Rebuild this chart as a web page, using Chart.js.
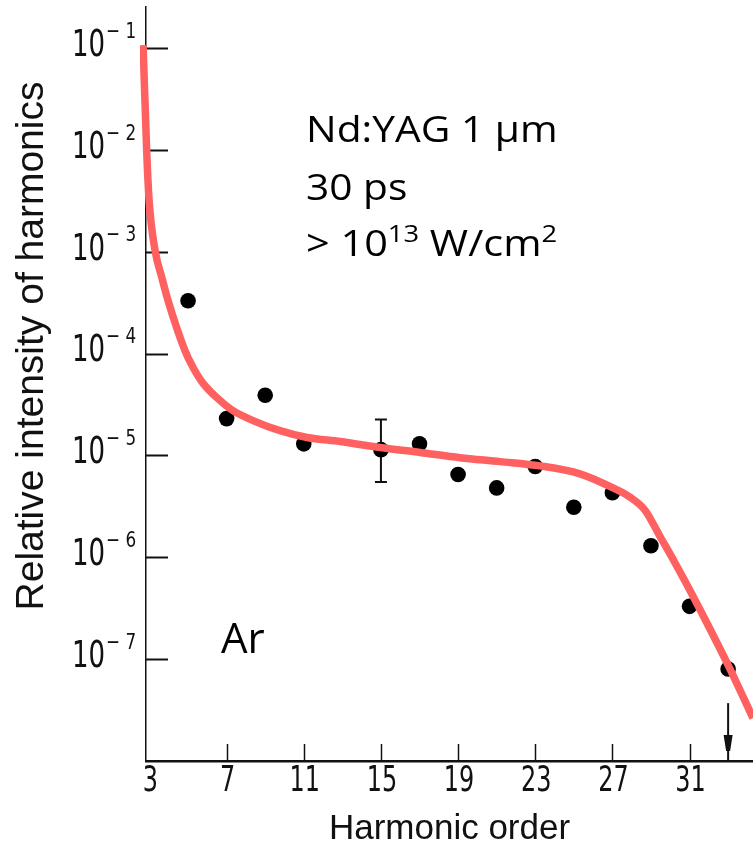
<!DOCTYPE html>
<html>
<head>
<meta charset="utf-8">
<script src="https://cdn.jsdelivr.net/npm/chart.js@4.4.1/dist/chart.umd.min.js"></script>
<style>
  html, body { margin: 0; padding: 0; background: #fff; }
  #wrap { width: 753px; height: 850px; position: relative; }
</style>
</head>
<body>
<div id="wrap"><canvas id="c" width="753" height="850"></canvas></div>
<script>
// Measured harmonic intensities (Ar, Nd:YAG 1 µm, 30 ps)
const harmonicOrder = [5, 7, 9, 11, 15, 17, 19, 21, 23, 25, 27, 29, 31, 33];
const relIntensity  = [3.3e-4, 2.3e-5, 3.9e-5, 1.3e-5, 1.14e-5, 1.3e-5, 6.5e-6,
                       4.8e-6, 7.8e-6, 3.1e-6, 4.3e-6, 1.3e-6, 3.3e-7, 8.0e-8];

// Representative error bar
const errorOrder = [15];
const errorLow   = [5.5e-6];
const errorHigh  = [2.25e-5];

// Upper-limit marker
const limitOrder = [33];
const limitTop   = [3.7e-8];
const limitHead  = [1.5e-8];

// Guide curve through the spectrum
const fitOrder = [2.67, 2.85, 2.98, 3.29, 3.65, 3.96, 4.84, 5.26, 5.78, 6.66,
                  7.33, 8.37, 9.77, 11.17, 12.88, 15.06, 17.03, 19.10, 21.18, 23.25, 25.32,
                  27.03, 27.91, 28.69, 29.47, 30.25, 31.03, 32.06, 33.10, 34.29];
const fitIntensity = [0.107, 1.04e-2, 3.2e-3, 1.03e-3, 5.5e-4, 3.33e-4,
                      1.07e-4, 7.3e-5, 5.1e-5, 3.46e-5, 2.75e-5, 2.2e-5, 1.75e-5, 1.5e-5,
                      1.37e-5, 1.19e-5, 1.07e-5, 9.5e-6, 8.7e-6, 7.9e-6, 6.6e-6, 4.8e-6,
                      3.9e-6, 2.9e-6, 1.6e-6, 8.8e-7, 4.7e-7, 1.98e-7, 8.0e-8, 2.64e-8];

// Axis ticks
const xTicks = [3, 7, 11, 15, 19, 23, 27, 31];
const yTickExponents = [-1, -2, -3, -4, -5, -6, -7];

const FIG_FONT = "'Liberation Sans', Arial, sans-serif";
const DIGIT_FONT = "'DejaVu Sans Condensed', 'DejaVu Sans', sans-serif";
const NOTE_FONT = "'Open Sans', sans-serif";
const INK = '#111';

// text drawn with horizontal compression/stretch, anchored at (x, y)
function squeezedText(ctx, text, x, y, sx, align) {
  ctx.save();
  ctx.translate(x, y);
  ctx.scale(sx, 1);
  ctx.textAlign = align;
  ctx.fillText(text, 0, 0);
  ctx.restore();
}

function drawRich(ctx, x, y, parts, size, family, sx) {
  ctx.save();
  ctx.translate(x, y);
  ctx.scale(sx, 1);
  ctx.textAlign = 'left';
  let cx = 0;
  parts.forEach(p => {
    const s = p.sup ? size * 0.66 : size;
    ctx.font = s + 'px ' + family;
    ctx.fillText(p.t, cx, p.sup ? -size * 0.37 : 0);
    cx += ctx.measureText(p.t).width;
  });
  ctx.restore();
}

const decor = {
  id: 'decor',
  beforeDatasetsDraw(chart) {
    const { ctx, scales: { x, y }, chartArea: a } = chart;
    ctx.save();
    ctx.strokeStyle = INK;
    ctx.fillStyle = INK;
    ctx.lineWidth = 2;
    // inward ticks on the intensity axis
    yTickExponents.forEach(e => {
      const py = Math.round(y.getPixelForValue(Math.pow(10, e))) + 0.5;
      ctx.beginPath();
      ctx.moveTo(a.left, py);
      ctx.lineTo(a.left + 22, py);
      ctx.stroke();
    });
    // inward ticks on the harmonic axis
    ctx.lineWidth = 1.5;
    xTicks.slice(1).forEach(v => {
      const px = Math.round(x.getPixelForValue(v)) + 0.5;
      ctx.beginPath();
      ctx.moveTo(px, a.bottom);
      ctx.lineTo(px, a.bottom - 17);
      ctx.stroke();
    });
    // error bars
    ctx.lineWidth = 2;
    errorOrder.forEach((h, i) => {
      const px = x.getPixelForValue(h);
      const t = y.getPixelForValue(errorHigh[i]);
      const b = y.getPixelForValue(errorLow[i]);
      ctx.beginPath();
      ctx.moveTo(px, t); ctx.lineTo(px, b);
      ctx.moveTo(px - 6, t); ctx.lineTo(px + 6, t);
      ctx.moveTo(px - 6, b); ctx.lineTo(px + 6, b);
      ctx.stroke();
    });
    // upper-limit arrows
    limitOrder.forEach((h, i) => {
      const px = x.getPixelForValue(h);
      const t = y.getPixelForValue(limitTop[i]);
      const hp = y.getPixelForValue(limitHead[i]);
      ctx.lineWidth = 2;
      ctx.beginPath();
      ctx.moveTo(px, t); ctx.lineTo(px, a.bottom);
      ctx.stroke();
      ctx.beginPath();
      ctx.moveTo(px - 4.5, hp - 8);
      ctx.lineTo(px + 4.5, hp - 8);
      ctx.lineTo(px + 2, hp + 8);
      ctx.lineTo(px - 2, hp + 8);
      ctx.closePath();
      ctx.fill();
    });
    ctx.restore();
  },
  afterDraw(chart) {
    const { ctx, scales: { x, y }, chartArea: a } = chart;
    ctx.save();
    ctx.fillStyle = INK;
    // decade labels 10^n
    ctx.textBaseline = 'middle';
    yTickExponents.forEach(e => {
      const py = y.getPixelForValue(Math.pow(10, e));
      ctx.font = '38px ' + DIGIT_FONT;
      squeezedText(ctx, '10', 105, py - 2, 0.76, 'right');
      ctx.font = '22px ' + DIGIT_FONT;
      squeezedText(ctx, '\u2212 ' + Math.abs(e), 106, py - 16, 0.85, 'left');
    });
    // harmonic order labels
    ctx.font = '35px ' + DIGIT_FONT;
    xTicks.forEach(v => {
      squeezedText(ctx, String(v), x.getPixelForValue(v) + 1, a.bottom + 21, 0.76, 'center');
    });
    // intensity axis title
    ctx.save();
    ctx.translate(32, 346);
    ctx.rotate(-Math.PI / 2);
    ctx.textAlign = 'center';
    ctx.textBaseline = 'middle';
    ctx.font = '39px ' + FIG_FONT;
    ctx.fillText('Relative intensity of harmonics', 0, 0);
    ctx.restore();
    // laser conditions
    ctx.textBaseline = 'alphabetic';
    ctx.fillStyle = '#000';
    ctx.font = '37px ' + NOTE_FONT;
    squeezedText(ctx, 'Nd:YAG 1 \u00b5m', 306, 142, 1.1, 'left');
    squeezedText(ctx, '30 ps', 306, 200, 1.1, 'left');
    drawRich(ctx, 306, 256, [{ t: '> 10' }, { t: '13', sup: true }, { t: ' W/cm' }, { t: '2', sup: true }], 37, NOTE_FONT, 1.12);
    ctx.font = '42px ' + NOTE_FONT;
    ctx.textAlign = 'left';
    ctx.fillText('Ar', 221, 653);
    ctx.restore();
  }
};

new Chart(document.getElementById('c'), {
  type: 'scatter',
  data: {
    datasets: [
      {
        label: 'guide',
        data: fitOrder.map((h, i) => ({ x: h, y: fitIntensity[i] })),
        showLine: true,
        borderColor: 'rgb(255, 96, 96)',
        borderWidth: 7.5,
        pointRadius: 0,
        cubicInterpolationMode: 'monotone',
        clip: { left: 6, top: 8, right: 0, bottom: 0 }
      },
      {
        label: 'Ar',
        data: harmonicOrder.map((h, i) => ({ x: h, y: relIntensity[i] })),
        showLine: false,
        pointRadius: 7.8,
        pointBackgroundColor: '#000',
        pointBorderColor: '#000',
        pointBorderWidth: 0
      }
    ]
  },
  plugins: [decor],
  options: {
    responsive: false,
    devicePixelRatio: 1,
    animation: false,
    events: [],
    layout: { autoPadding: false, padding: { top: 7, left: 0, right: 0, bottom: 0 } },
    plugins: { legend: { display: false }, tooltip: { enabled: false } },
    scales: {
      x: {
        type: 'linear',
        min: 2.82,
        max: 34.29,
        afterBuildTicks: s => { s.ticks = xTicks.map(v => ({ value: v })); },
        afterFit: s => { s.height = 89; },
        grid: { display: false, drawTicks: false, tickLength: 0 },
        border: { display: true, color: INK, width: 2.5 },
        ticks: { display: false },
        title: { display: true, text: 'Harmonic order', color: INK, font: { family: FIG_FONT, size: 35 }, padding: { top: 0, bottom: 0 } }
      },
      y: {
        type: 'logarithmic',
        min: 1e-8,
        max: 0.253,
        afterFit: s => { s.width = 146; },
        grid: { display: false, drawTicks: false, tickLength: 0 },
        border: { display: true, color: INK, width: 1.5 },
        ticks: { display: false }
      }
    }
  }
});
</script>
</body>
</html>
